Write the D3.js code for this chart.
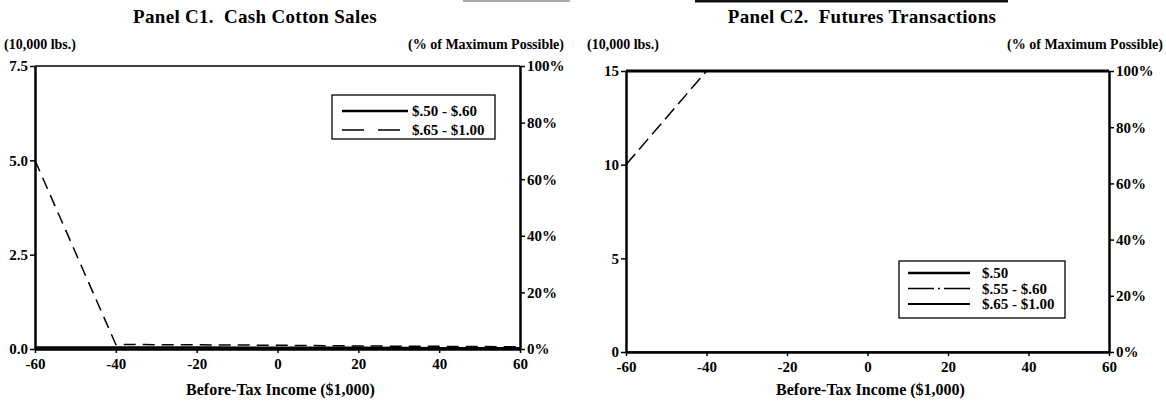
<!DOCTYPE html>
<html>
<head>
<meta charset="utf-8">
<script src="https://cdn.jsdelivr.net/npm/d3@7"></script>
<style>
  body { margin: 0; background: #fff; }
  svg { display: block; font-family: "Liberation Serif", "Times New Roman", serif; font-weight: bold; }
  .axis path, .axis line { stroke: #000; }
  .axis text { font-family: "Liberation Serif", serif; font-weight: bold; font-size: 15px; fill: #000; }
  .title { white-space: pre; }
</style>
</head>
<body>
<div id="chart"></div>
<script>
// before-tax income ($1,000) where the values were read
const income = [-60, -40, -20, 0, 20, 40, 60];
const xTicks = [-60, -40, -20, 0, 20, 40, 60];
const pctTicks = [0, 20, 40, 60, 80, 100];

// Panel C1: cash cotton sales (10,000 lbs.)
const salesLabels = ['$.50 - $.60', '$.65 - $1.00'];
const sales50to60 = [0.04, 0.04, 0.04, 0.03, 0.03, 0.02, 0.02];
const sales65to100 = [5.0, 0.12, 0.11, 0.10, 0.08, 0.07, 0.06];
const salesTicks = [0, 2.5, 5, 7.5];

// Panel C2: futures transactions (10,000 lbs.)
const futuresLabels = ['$.50', '$.55 - $.60', '$.65 - $1.00'];
const futures50 = [15, 15, 15, 15, 15, 15, 15];
const futures55to60 = [10, 15, 15, 15, 15, 15, 15];
const futures65to100 = [0, 0, 0, 0, 0, 0, 0];
const futuresTicks = [0, 5, 10, 15];

class IncomePanel {

    constructor(svg, opts) {
        this.svg = svg;
        this.opts = opts;
        this.initVis();
    }

    initVis() {
        let vis = this;
        let o = vis.opts;

        vis.g = vis.svg.append("g");

        vis.x = d3.scaleLinear().domain([-60, 60]).range([o.left, o.right]);
        vis.y = d3.scaleLinear().domain([0, o.yMax]).range([o.bottom, o.top]);
        vis.yPct = d3.scaleLinear().domain([0, 100]).range([o.bottom, o.top]);

        // titles
        vis.g.append("text")
            .attr("class", "title")
            .attr("x", o.titleX).attr("y", 23)
            .attr("text-anchor", "middle")
            .style("font-size", "19px")
            .style("letter-spacing", "0.3px")
            .text(o.title);

        vis.g.append("text")
            .attr("x", o.unitX).attr("y", 49)
            .style("font-size", "14px")
            .text("(10,000 lbs.)");

        vis.g.append("text")
            .attr("x", o.pctX).attr("y", 49)
            .attr("text-anchor", "end")
            .style("font-size", "14px")
            .text("(% of Maximum Possible)");

        vis.g.append("text")
            .attr("x", (o.left + o.right) / 2 + 3).attr("y", 395)
            .attr("text-anchor", "middle")
            .style("font-size", "16px")
            .text("Before-Tax Income ($1,000)");

        vis.updateVis();
    }

    updateVis() {
        let vis = this;
        let o = vis.opts;

        // top border of the frame
        vis.g.append("line")
            .attr("x1", o.left).attr("x2", o.right)
            .attr("y1", o.top).attr("y2", o.top)
            .attr("stroke", "#000").attr("stroke-width", 1.5);

        // left axis
        let left = vis.g.append("g")
            .attr("class", "axis")
            .attr("transform", "translate(" + o.left + ",0)")
            .call(d3.axisLeft(vis.y)
                .tickValues(o.yTicks)
                .tickFormat(o.yFormat)
                .tickSizeInner(5)
                .tickSizeOuter(0)
                .tickPadding(2));
        left.select(".domain").attr("stroke-width", 2.5);
        left.selectAll(".tick line").attr("stroke-width", 1.5);

        // right axis
        let right = vis.g.append("g")
            .attr("class", "axis")
            .attr("transform", "translate(" + o.right + ",0)")
            .call(d3.axisRight(vis.yPct)
                .tickValues(pctTicks)
                .tickFormat(function(d) { return d + "%"; })
                .tickSizeInner(5)
                .tickSizeOuter(0)
                .tickPadding(2));
        right.select(".domain").attr("stroke-width", 2.5);
        right.selectAll(".tick line").attr("stroke-width", 1.5);

        // bottom axis
        let bottom = vis.g.append("g")
            .attr("class", "axis")
            .attr("transform", "translate(0," + o.bottom + ")")
            .call(d3.axisBottom(vis.x)
                .tickValues(xTicks)
                .tickSizeInner(4)
                .tickSizeOuter(0)
                .tickPadding(5));
        bottom.select(".domain").attr("stroke-width", 2.5);
        bottom.selectAll(".tick line").attr("stroke-width", 1.5);
        bottom.selectAll(".tick text").text(function(d) { return d < 0 ? "-" + Math.abs(d) : d; });

        // series lines
        let line = d3.line()
            .x(function(d, i) { return vis.x(income[i]); })
            .y(function(d) { return vis.y(d); });

        vis.g.selectAll(".series")
            .data(o.series)
            .enter().append("path")
            .attr("class", "series")
            .attr("fill", "none")
            .attr("stroke", "#000")
            .attr("stroke-width", function(d) { return d.width; })
            .attr("stroke-dasharray", function(d) { return d.dash; })
            .attr("d", function(d) { return line(d.values); });

        // legend
        let lg = vis.g.append("g")
            .attr("transform", "translate(" + o.legend.x + "," + o.legend.y + ")");

        lg.append("rect")
            .attr("width", o.legend.w).attr("height", o.legend.h)
            .attr("fill", "#fff").attr("stroke", "#000").attr("stroke-width", 1.3);

        let rows = lg.selectAll(".row")
            .data(o.series)
            .enter().append("g")
            .attr("class", "row")
            .attr("transform", function(d, i) { return "translate(0," + (o.legend.first + i * o.legend.step) + ")"; });

        rows.append("line")
            .attr("x1", o.legend.sx1).attr("x2", o.legend.sx2)
            .attr("stroke", "#000")
            .attr("stroke-width", function(d) { return d.legendWidth; })
            .attr("stroke-dasharray", function(d) { return d.legendDash; });

        rows.append("text")
            .attr("x", o.legend.tx)
            .attr("dy", "0.35em")
            .style("font-size", o.legend.font)
            .text(function(d) { return d.label; });
    }
}

let svg = d3.select("#chart")
    .append("svg")
    .attr("width", 1166)
    .attr("height", 410);

// bits of table rules cut off at the top of the scan
svg.append("line").attr("x1", 463).attr("x2", 570).attr("y1", 1).attr("y2", 1)
    .attr("stroke", "#aaa").attr("stroke-width", 2);
svg.append("line").attr("x1", 695).attr("x2", 1008).attr("y1", 1).attr("y2", 1)
    .attr("stroke", "#111").attr("stroke-width", 3);

new IncomePanel(svg, {
    title: "Panel C1.  Cash Cotton Sales",
    titleX: 255, unitX: 4, pctX: 564,
    left: 35, right: 520, top: 66, bottom: 349,
    yMax: 7.5, yTicks: salesTicks, yFormat: d3.format(".1f"),
    series: [
        { label: salesLabels[0], values: sales50to60, width: 2.5, dash: null, legendWidth: 2.5, legendDash: null },
        { label: salesLabels[1], values: sales65to100, width: 1.5, dash: "12,7", legendWidth: 1.5, legendDash: "22,14" }
    ],
    legend: { x: 332, y: 95, w: 163, h: 44, first: 16, step: 19, sx1: 10, sx2: 76, tx: 80, font: "15px" }
});

new IncomePanel(svg, {
    title: "Panel C2.  Futures Transactions",
    titleX: 862, unitX: 587, pctX: 1163,
    left: 626, right: 1109, top: 71, bottom: 352,
    yMax: 15, yTicks: futuresTicks, yFormat: d3.format("d"),
    series: [
        { label: futuresLabels[0], values: futures50, width: 3, dash: null, legendWidth: 2.5, legendDash: null },
        { label: futuresLabels[1], values: futures55to60, width: 1.5, dash: "14,6", legendWidth: 1.5, legendDash: "26,4,2,4" },
        { label: futuresLabels[2], values: futures65to100, width: 1.5, dash: null, legendWidth: 2, legendDash: null }
    ],
    legend: { x: 899, y: 261, w: 166, h: 57, first: 12, step: 15.5, sx1: 9, sx2: 71, tx: 83, font: "15px" }
});
</script>
</body>
</html>
